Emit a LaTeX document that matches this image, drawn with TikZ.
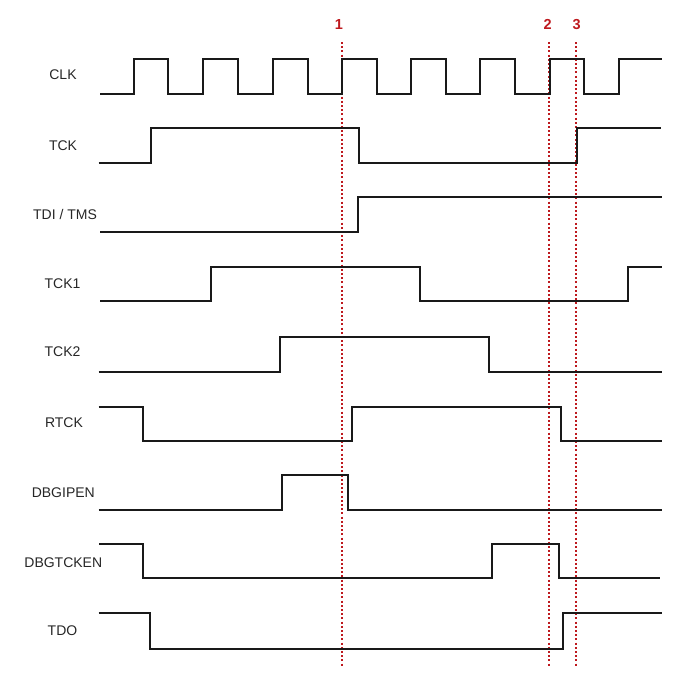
\documentclass[tikz,border=0pt]{standalone}
\usepackage{fontspec}
\setmainfont{Liberation Sans}
\definecolor{mred}{RGB}{190,25,30}
\begin{document}
\begin{tikzpicture}[x=1pt,y=-1pt,
  sig/.style={line width=2pt, black!90, line join=miter},
  marker/.style={draw=mred, line width=1.7pt, dash pattern=on 2pt off 2.2pt},
  lab/.style={font=\fontsize{14}{16}\selectfont, text=black!85, inner sep=0pt},
  num/.style={font=\bfseries\fontsize{14.5}{16}\selectfont, text=mred, inner sep=0pt}]
\useasboundingbox (0,0) rectangle (685,675);
% labels
\node[lab] (lclk) at (63,74.5) {CLK};
\node[lab] (ltck) at (63,145.3) {TCK};
\node[lab] (ltdi) at (65,214.3) {TDI / TMS};
\node[lab] (ltck1) at (62.5,283.3) {TCK1};
\node[lab] (ltck2) at (62.5,351.7) {TCK2};
\node[lab] (lrtck) at (64,422.7) {RTCK};
\node[lab] (ldbgi) at (63.3,492.3) {DBGIPEN};
\node[lab] (ldbgt) at (63.3,562.5) {DBGTCKEN};
\node[lab] (ltdo) at (62.5,631) {TDO};
% markers
\node[num] (n1) at (339,24.5) {1};
\node[num] (n2) at (547.7,24.5) {2};
\node[num] (n3) at (576.7,24.5) {3};
\coordinate (m1t) at (341.7,42); \coordinate (m1b) at (341.7,667);
\coordinate (m2t) at (549.3,42); \coordinate (m2b) at (549.3,667);
\coordinate (m3t) at (576.0,42); \coordinate (m3b) at (576.0,667);
\draw[marker] (m1t) -- (m1b);
\draw[marker] (m2t) -- (m2b);
\draw[marker] (m3t) -- (m3b);
% CLK
\draw[sig] (100,94) -- (133.5,94) -- (133.5,59.3) -- (168.3,59.3) -- (168.3,94)
  -- (202.9,94) -- (202.9,59.3) -- (237.9,59.3) -- (237.9,94)
  -- (272.5,94) -- (272.5,59.3) -- (307.9,59.3) -- (307.9,94)
  -- (341.7,94) -- (341.7,59.3) -- (376.7,59.3) -- (376.7,94)
  -- (411,94) -- (411,59.3) -- (445.7,59.3) -- (445.7,94)
  -- (480.2,94) -- (480.2,59.3) -- (515,59.3) -- (515,94)
  -- (549.5,94) -- (549.5,59.3) -- (583.5,59.3) -- (583.5,94)
  -- (619.3,94) -- (619.3,59.3) -- (661.5,59.3);
% TCK
\draw[sig] (98.5,163.3) -- (151,163.3) -- (151,128.3) -- (359.3,128.3) -- (359.3,163.3)
  -- (577.3,163.3) -- (577.3,128.3) -- (661,128.3);
% TDI/TMS
\draw[sig] (100,231.7) -- (358.3,231.7) -- (358.3,197.3) -- (662,197.3);
% TCK1
\draw[sig] (100,301) -- (211,301) -- (211,266.7) -- (420,266.7) -- (420,301)
  -- (628.3,301) -- (628.3,266.7) -- (662,266.7);
% TCK2
\draw[sig] (98.5,371.7) -- (280,371.7) -- (280,336.7) -- (489,336.7) -- (489,371.7) -- (662,371.7);
% RTCK
\draw[sig] (98.5,407) -- (143.3,407) -- (143.3,440.7) -- (352.3,440.7) -- (352.3,406.5)
  -- (560.7,406.5) -- (560.7,440.7) -- (662,440.7);
% DBGIPEN
\draw[sig] (98.5,510) -- (282.3,510) -- (282.3,475.3) -- (347.7,475.3) -- (347.7,510) -- (662,510);
% DBGTCKEN
\draw[sig] (99.3,544) -- (142.7,544) -- (142.7,578.3) -- (492.3,578.3) -- (492.3,544)
  -- (559.3,544) -- (559.3,578.3) -- (660,578.3);
% TDO
\draw[sig] (98.5,613) -- (150,613) -- (150,648.7) -- (563.3,648.7) -- (563.3,613) -- (662,613);
\end{tikzpicture}
\end{document}
